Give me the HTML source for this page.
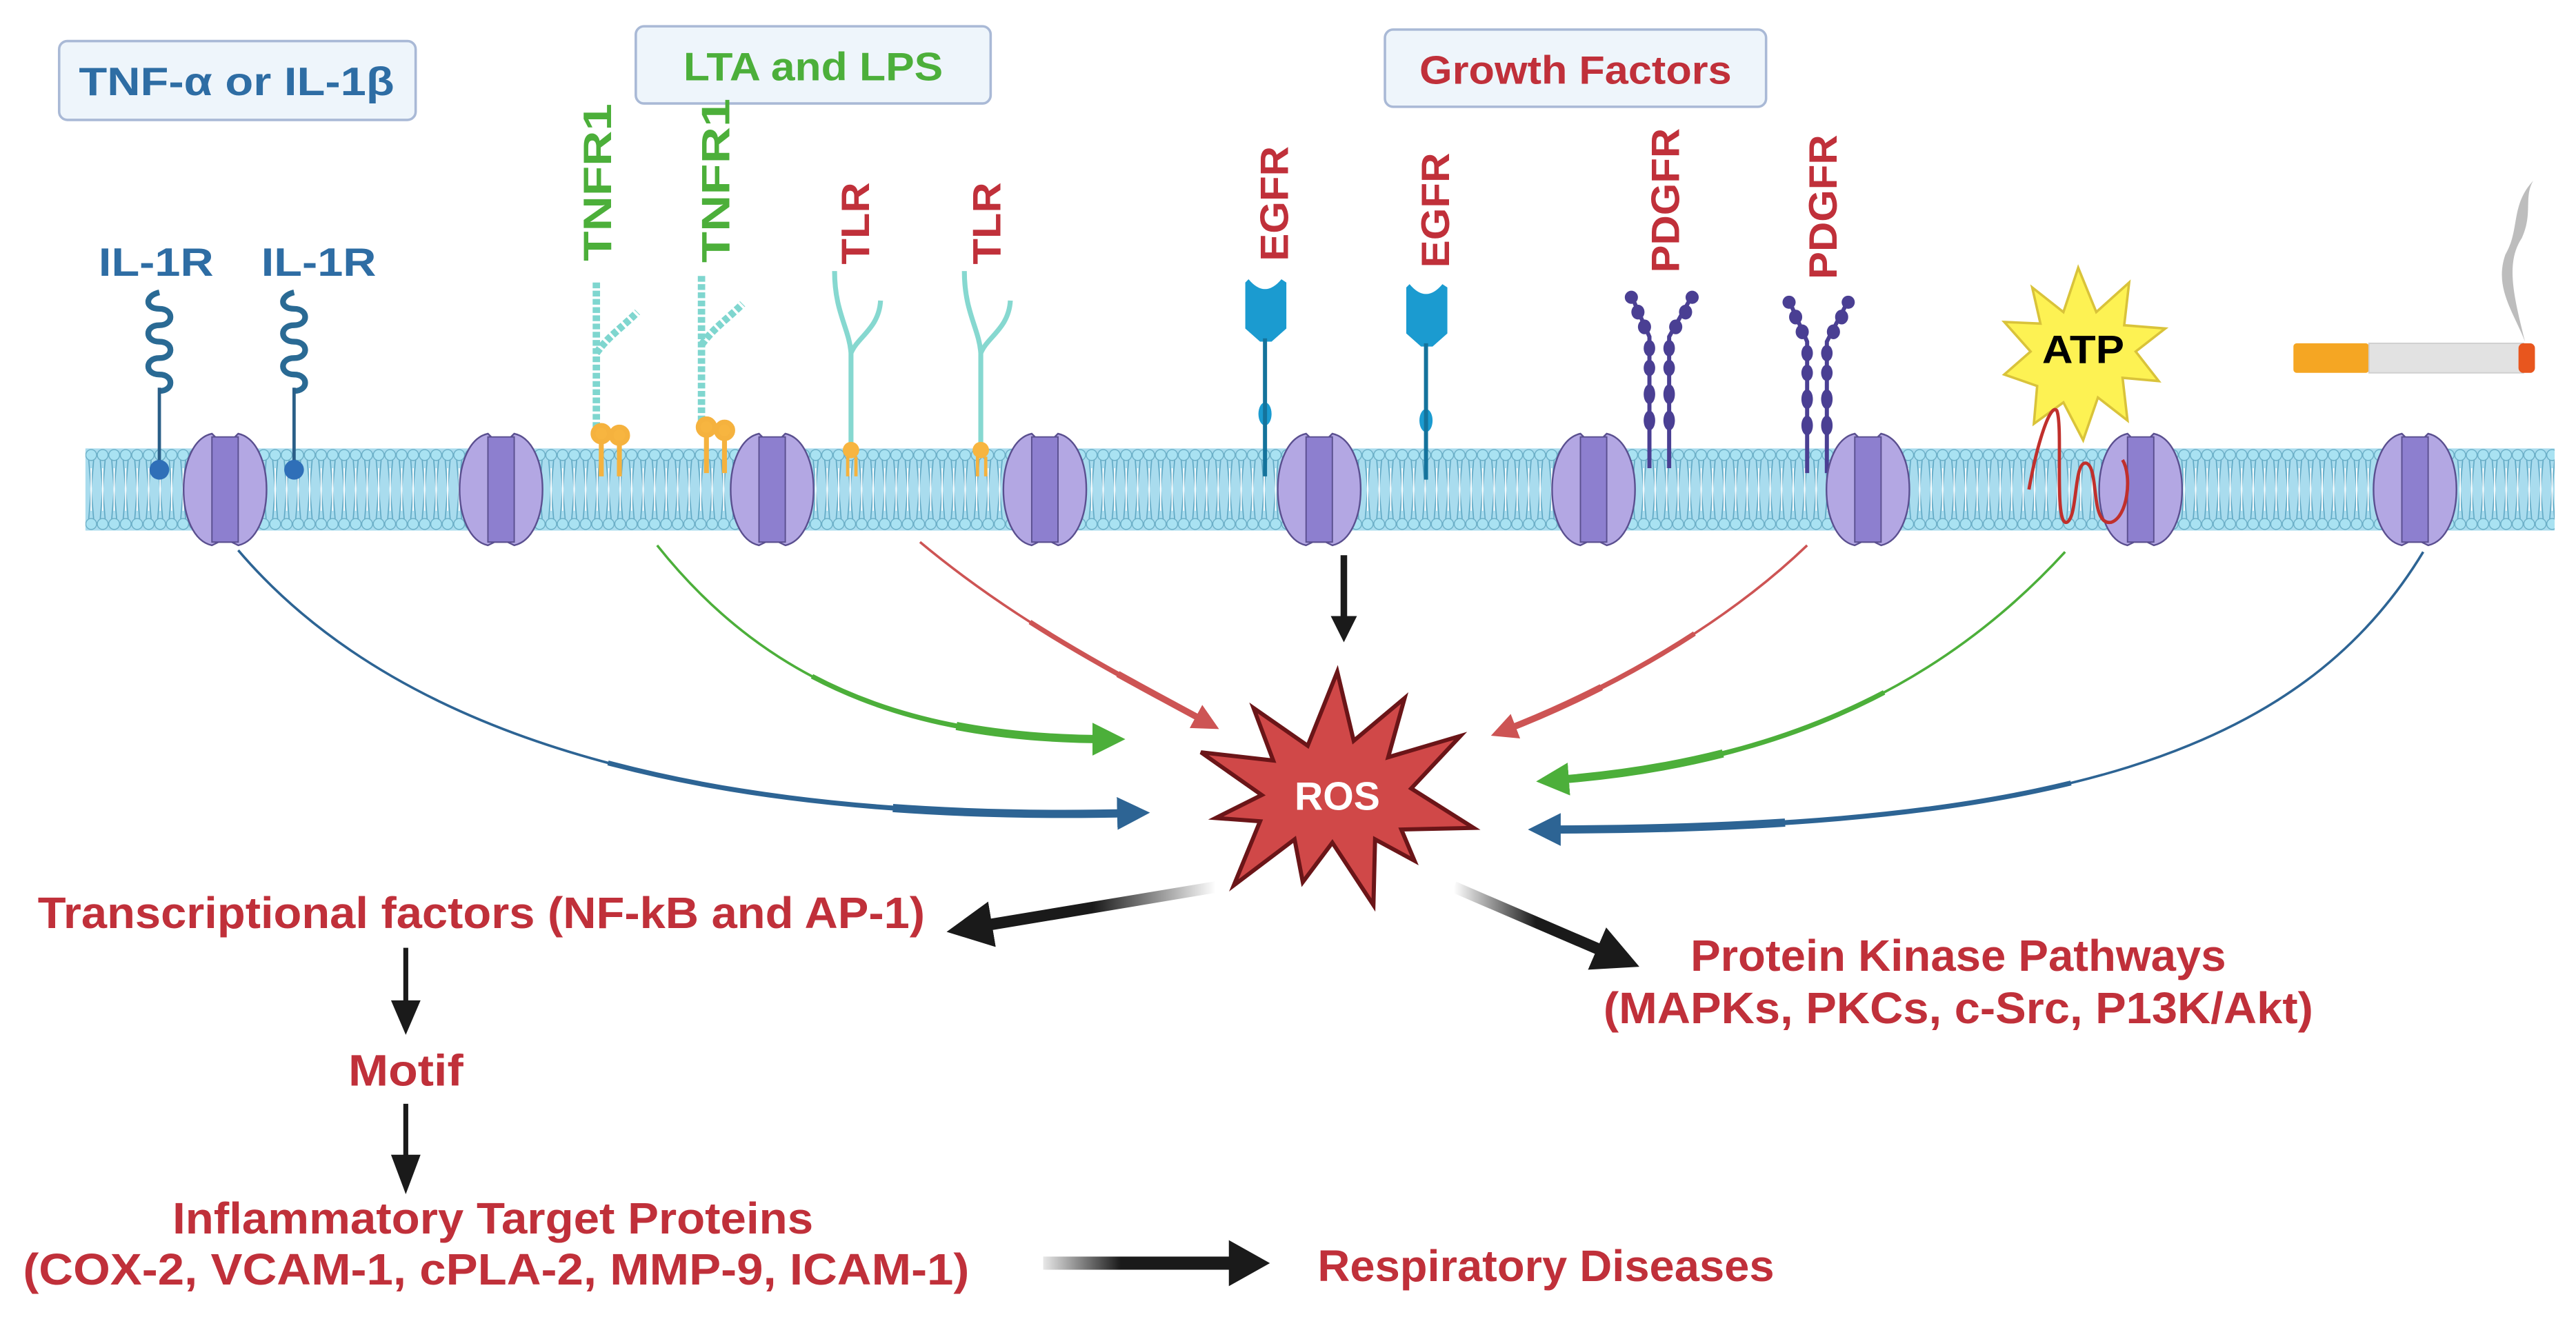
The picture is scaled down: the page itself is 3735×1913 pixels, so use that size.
<!DOCTYPE html>
<html><head><meta charset="utf-8"><style>
html,body{margin:0;padding:0;background:#fff;}
svg{display:block;}
text{font-family:"Liberation Sans",sans-serif;font-weight:bold;}
</style></head><body>
<svg width="3735" height="1913" viewBox="0 0 1568 803" preserveAspectRatio="none" xmlns="http://www.w3.org/2000/svg">
<defs>
<pattern id="lip" x="52" y="0" width="7" height="803" patternUnits="userSpaceOnUse">
<rect x="0" y="273" width="7" height="50" fill="#a9dcee"/>
<line x1="2" y1="280" x2="5" y2="316" stroke="#5fa8c4" stroke-width="0.7"/>
<line x1="5" y1="280" x2="2" y2="316" stroke="#5fa8c4" stroke-width="0.7"/>
<line x1="3.5" y1="285" x2="3.5" y2="311" stroke="#fff" stroke-width="0.8"/>
<circle cx="3.5" cy="277" r="3.3" fill="#a9e2f2" stroke="#6aaec6" stroke-width="0.6"/>
<circle cx="3.5" cy="319" r="3.3" fill="#a9e2f2" stroke="#6aaec6" stroke-width="0.6"/>
</pattern>
<g id="ch">
<path d="M-8,-34 C-31,-29 -31,29 -8,34 L-4,32 L4,32 L8,34 C31,29 31,-29 8,-34 L4,-30 L-4,-30 Z" fill="#b3a7e3" stroke="#5a4f8f" stroke-width="1"/>
<rect x="-8" y="-32" width="16" height="64" fill="#8d7fcf" stroke="#5a4f8f" stroke-width="0.8"/>
</g>
<marker id="mB" markerWidth="4" markerHeight="4" refX="2" refY="2" orient="auto" markerUnits="strokeWidth"><path d="M0,0 L4,2 L0,4 Z" fill="#2d6494"/></marker>
<marker id="mG" markerWidth="4" markerHeight="4" refX="2" refY="2" orient="auto" markerUnits="strokeWidth"><path d="M0,0 L4,2 L0,4 Z" fill="#4caf3a"/></marker>
<marker id="mR" markerWidth="4" markerHeight="4" refX="2" refY="2" orient="auto" markerUnits="strokeWidth"><path d="M0,0 L4,2 L0,4 Z" fill="#cd5454"/></marker>
<marker id="mK" markerWidth="4" markerHeight="4" refX="2" refY="2" orient="auto" markerUnits="strokeWidth"><path d="M0,0 L4,2 L0,4 Z" fill="#1a1a1a"/></marker>
<linearGradient id="gL" x1="1" y1="0" x2="0" y2="0"><stop offset="0" stop-color="#1a1a1a" stop-opacity="0"/><stop offset="0.5" stop-color="#1a1a1a"/></linearGradient>
<linearGradient id="gR" x1="0" y1="0" x2="1" y2="0"><stop offset="0" stop-color="#1a1a1a" stop-opacity="0"/><stop offset="0.5" stop-color="#1a1a1a"/></linearGradient>
<linearGradient id="gH" x1="0" y1="0" x2="1" y2="0"><stop offset="0" stop-color="#1a1a1a" stop-opacity="0.1"/><stop offset="0.4" stop-color="#1a1a1a"/></linearGradient>
</defs>

<!-- label boxes -->
<rect x="36" y="25" width="217" height="48" rx="5" fill="#eef5fb" stroke="#a9b9d6" stroke-width="1.5"/>
<text x="144" y="58" font-size="24" fill="#2e6da4" text-anchor="middle" textLength="192" lengthAdjust="spacingAndGlyphs">TNF-α or IL-1β</text>
<rect x="387" y="16" width="216" height="47" rx="5" fill="#eef5fb" stroke="#a9b9d6" stroke-width="1.5"/>
<text x="495" y="49" font-size="24" fill="#4caf3a" text-anchor="middle" textLength="158" lengthAdjust="spacingAndGlyphs">LTA and LPS</text>
<rect x="843" y="18" width="232" height="47" rx="5" fill="#eef5fb" stroke="#a9b9d6" stroke-width="1.5"/>
<text x="959" y="51" font-size="24" fill="#c0303a" text-anchor="middle" textLength="190" lengthAdjust="spacingAndGlyphs">Growth Factors</text>

<!-- membrane -->
<rect x="52" y="272" width="1503" height="52" fill="url(#lip)"/>

<!-- IL-1R -->
<text x="95" y="168" font-size="24" fill="#2e6da4" text-anchor="middle" textLength="70" lengthAdjust="spacingAndGlyphs">IL-1R</text>
<text x="194" y="168" font-size="24" fill="#2e6da4" text-anchor="middle" textLength="70" lengthAdjust="spacingAndGlyphs">IL-1R</text>
<g fill="none" stroke="#2a6a94" stroke-width="3.5">
<path d="M97,178 c-9,2 -9,10 0,10 c9,0 9,10 0,10 c-9,0 -9,10 0,10 c9,0 9,10 0,10 c-9,0 -9,10 0,10 c9,0 9,10 0,10"/>
<path d="M179,178 c-9,2 -9,10 0,10 c9,0 9,10 0,10 c-9,0 -9,10 0,10 c9,0 9,10 0,10 c-9,0 -9,10 0,10 c9,0 9,10 0,10"/>
</g>
<line x1="97" y1="236" x2="97" y2="285" stroke="#2a5f88" stroke-width="2"/>
<line x1="179" y1="236" x2="179" y2="285" stroke="#2a5f88" stroke-width="2"/>
<circle cx="97" cy="286" r="6" fill="#2f6fb8"/><circle cx="179" cy="286" r="6" fill="#2f6fb8"/>

<!-- TNFR1 -->
<g font-size="24" fill="#4caf3a">
<text transform="translate(372,111) rotate(-90)" text-anchor="middle" textLength="96" lengthAdjust="spacingAndGlyphs">TNFR1</text>
<text transform="translate(444,110) rotate(-90)" text-anchor="middle" textLength="100" lengthAdjust="spacingAndGlyphs">TNFR1</text>
</g>
<g stroke="#7fd6cf" stroke-width="4.5" stroke-dasharray="3.5 1.5" fill="none">
<path d="M363,172 L363,260"/><path d="M363,215 C370,205 378,200 388,190"/>
<path d="M427,168 L427,258"/><path d="M427,210 C434,200 442,195 452,185"/>
</g>
<g stroke="#f5b23e" stroke-width="3" fill="#f7b540">
<circle cx="366" cy="264" r="5"/><circle cx="377" cy="265" r="5"/>
<line x1="366" y1="268" x2="366" y2="290"/><line x1="377" y1="268" x2="377" y2="290"/>
<circle cx="430" cy="260" r="5"/><circle cx="441" cy="262" r="5"/>
<line x1="430" y1="264" x2="430" y2="288"/><line x1="441" y1="266" x2="441" y2="288"/>
</g>

<!-- TLR -->
<g font-size="24" fill="#c0303a">
<text transform="translate(529,136) rotate(-90)" text-anchor="middle" textLength="50" lengthAdjust="spacingAndGlyphs">TLR</text>
<text transform="translate(609,136) rotate(-90)" text-anchor="middle" textLength="50" lengthAdjust="spacingAndGlyphs">TLR</text>
</g>
<g stroke="#86d8d0" stroke-width="3" fill="none">
<path d="M508,165 C508,190 517,200 518,215 L518,272"/><path d="M536,183 C535,200 522,205 518,215"/>
<path d="M587,165 C587,190 596,200 597,215 L597,272"/><path d="M615,183 C614,200 601,205 597,215"/>
</g>
<g fill="#f7b540"><circle cx="518" cy="274" r="5"/><circle cx="597" cy="274" r="5"/></g>
<g stroke="#f5b23e" stroke-width="2"><line x1="516" y1="278" x2="516" y2="290"/><line x1="521" y1="278" x2="521" y2="290"/><line x1="595" y1="278" x2="595" y2="290"/><line x1="600" y1="278" x2="600" y2="290"/></g>

<!-- EGFR -->
<g font-size="24" fill="#c0303a">
<text transform="translate(784,124) rotate(-90)" text-anchor="middle" textLength="70" lengthAdjust="spacingAndGlyphs">EGFR</text>
<text transform="translate(882,128) rotate(-90)" text-anchor="middle" textLength="70" lengthAdjust="spacingAndGlyphs">EGFR</text>
</g>
<g fill="#1b9bd0">
<path d="M760,170 Q770,182 780,170 L783,172 L783,200 L774,208 L767,208 L758,200 L758,172 Z"/>
<path d="M858,173 Q868,185 878,173 L881,175 L881,203 L872,211 L865,211 L856,203 L856,175 Z"/>
<ellipse cx="770" cy="252" rx="4" ry="7"/><ellipse cx="868" cy="256" rx="4" ry="7"/>
</g>
<g stroke="#14739c" stroke-width="2.5"><line x1="770" y1="206" x2="770" y2="290"/><line x1="868" y1="209" x2="868" y2="292"/></g>

<!-- PDGFR -->
<g font-size="24" fill="#c0303a">
<text transform="translate(1022,122) rotate(-90)" text-anchor="middle" textLength="88" lengthAdjust="spacingAndGlyphs">PDGFR</text>
<text transform="translate(1118,126) rotate(-90)" text-anchor="middle" textLength="88" lengthAdjust="spacingAndGlyphs">PDGFR</text>
</g>
<g stroke="#4a3f93" stroke-width="2.5" fill="none">
<path d="M993,180 L1004,205 L1004,285"/><path d="M1030,180 L1016,205 L1016,285"/>
<path d="M1089,183 L1100,208 L1100,288"/><path d="M1125,183 L1112,208 L1112,288"/>
</g>
<g fill="#4a3f93">
<ellipse cx="993" cy="181" rx="4" ry="4"/><ellipse cx="997" cy="190" rx="4" ry="4.5"/><ellipse cx="1001" cy="199" rx="4" ry="4.5"/>
<ellipse cx="1030" cy="181" rx="4" ry="4"/><ellipse cx="1026" cy="190" rx="4" ry="4.5"/><ellipse cx="1020" cy="199" rx="4" ry="4.5"/>
<ellipse cx="1004" cy="212" rx="3.5" ry="5"/><ellipse cx="1004" cy="224" rx="3.5" ry="5"/><ellipse cx="1004" cy="240" rx="3.5" ry="6"/><ellipse cx="1004" cy="256" rx="3.5" ry="6"/>
<ellipse cx="1016" cy="212" rx="3.5" ry="5"/><ellipse cx="1016" cy="224" rx="3.5" ry="5"/><ellipse cx="1016" cy="240" rx="3.5" ry="6"/><ellipse cx="1016" cy="256" rx="3.5" ry="6"/>
<ellipse cx="1089" cy="184" rx="4" ry="4"/><ellipse cx="1093" cy="193" rx="4" ry="4.5"/><ellipse cx="1097" cy="202" rx="4" ry="4.5"/>
<ellipse cx="1125" cy="184" rx="4" ry="4"/><ellipse cx="1121" cy="193" rx="4" ry="4.5"/><ellipse cx="1116" cy="202" rx="4" ry="4.5"/>
<ellipse cx="1100" cy="215" rx="3.5" ry="5"/><ellipse cx="1100" cy="227" rx="3.5" ry="5"/><ellipse cx="1100" cy="243" rx="3.5" ry="6"/><ellipse cx="1100" cy="259" rx="3.5" ry="6"/>
<ellipse cx="1112" cy="215" rx="3.5" ry="5"/><ellipse cx="1112" cy="227" rx="3.5" ry="5"/><ellipse cx="1112" cy="243" rx="3.5" ry="6"/><ellipse cx="1112" cy="259" rx="3.5" ry="6"/>
</g>

<!-- channels -->
<use href="#ch" x="137" y="298"/><use href="#ch" x="305" y="298"/><use href="#ch" x="470" y="298"/>
<use href="#ch" x="636" y="298"/><use href="#ch" x="803" y="298"/><use href="#ch" x="970" y="298"/>
<use href="#ch" x="1137" y="298"/><use href="#ch" x="1303" y="298"/><use href="#ch" x="1470" y="298"/>

<!-- ATP -->
<polygon points="1265,163 1276,190 1296,172 1293,198 1318,200 1300,214 1314,232 1292,230 1295,256 1277,242 1268,268 1256,245 1238,258 1240,235 1220,228 1236,214 1220,196 1242,197 1237,175 1256,190" fill="#fdf253" stroke="#d9c33a" stroke-width="1.5"/>
<text x="1268" y="221" font-size="24" fill="#000" text-anchor="middle" textLength="50" lengthAdjust="spacingAndGlyphs">ATP</text>
<path d="M1235,298 C1240,270 1248,245 1252,250 C1256,260 1250,320 1258,318 C1265,315 1262,280 1270,282 C1278,285 1272,320 1285,318 C1295,315 1298,290 1292,280" fill="none" stroke="#c0302c" stroke-width="2"/>

<!-- cigarette -->
<rect x="1396" y="209" width="46" height="18" rx="2" fill="#f5a623"/>
<rect x="1442" y="209" width="94" height="18" fill="#e2e2e2" stroke="#cfcfcf" stroke-width="0.8"/>
<rect x="1533" y="209" width="10" height="18" rx="3" fill="#e8561e"/>
<path d="M1537,208 C1530,180 1525,160 1535,145 C1542,130 1536,120 1542,110 C1528,125 1534,140 1525,155 C1518,175 1530,190 1537,208 Z" fill="#bdbdbd"/>

<!-- colored arrows: tapered by layering same path -->
<g fill="none" stroke-linecap="butt">
<path d="M145,335 C260,470 480,500 690,495" stroke="#2d6494" stroke-width="1.5"/>
<path d="M145,335 C260,470 480,500 690,495" pathLength="100" stroke-dasharray="0 45 55" stroke="#2d6494" stroke-width="3"/>
<path d="M145,335 C260,470 480,500 690,495" pathLength="100" stroke-dasharray="0 75 25" stroke="#2d6494" stroke-width="5" marker-end="url(#mB)"/>
<path d="M400,332 C470,420 560,450 675,450" stroke="#4caf3a" stroke-width="1.5"/>
<path d="M400,332 C470,420 560,450 675,450" pathLength="100" stroke-dasharray="0 40 60" stroke="#4caf3a" stroke-width="3"/>
<path d="M400,332 C470,420 560,450 675,450" pathLength="100" stroke-dasharray="0 70 30" stroke="#4caf3a" stroke-width="5" marker-end="url(#mG)"/>
<path d="M560,330 C620,380 680,410 735,440" stroke="#cd5454" stroke-width="1.5"/>
<path d="M560,330 C620,380 680,410 735,440" pathLength="100" stroke-dasharray="0 40 60" stroke="#cd5454" stroke-width="3"/>
<path d="M560,330 C620,380 680,410 735,440" pathLength="100" stroke-dasharray="0 70 30" stroke="#cd5454" stroke-width="4" marker-end="url(#mR)"/>
<path d="M1100,332 C1050,380 980,420 915,445" stroke="#cd5454" stroke-width="1.5"/>
<path d="M1100,332 C1050,380 980,420 915,445" pathLength="100" stroke-dasharray="0 40 60" stroke="#cd5454" stroke-width="3"/>
<path d="M1100,332 C1050,380 980,420 915,445" pathLength="100" stroke-dasharray="0 70 30" stroke="#cd5454" stroke-width="4" marker-end="url(#mR)"/>
<path d="M1257,336 C1180,420 1080,465 945,475" stroke="#4caf3a" stroke-width="1.5"/>
<path d="M1257,336 C1180,420 1080,465 945,475" pathLength="100" stroke-dasharray="0 40 60" stroke="#4caf3a" stroke-width="3"/>
<path d="M1257,336 C1180,420 1080,465 945,475" pathLength="100" stroke-dasharray="0 70 30" stroke="#4caf3a" stroke-width="5" marker-end="url(#mG)"/>
<path d="M1475,336 C1400,460 1250,505 940,505" stroke="#2d6494" stroke-width="1.5"/>
<path d="M1475,336 C1400,460 1250,505 940,505" pathLength="100" stroke-dasharray="0 45 55" stroke="#2d6494" stroke-width="3"/>
<path d="M1475,336 C1400,460 1250,505 940,505" pathLength="100" stroke-dasharray="0 75 25" stroke="#2d6494" stroke-width="5" marker-end="url(#mB)"/>
<path d="M818,338 L818,383" stroke="#1a1a1a" stroke-width="4" marker-end="url(#mK)"/>
</g>

<!-- ROS -->
<polygon points="814,409 824,451 855,425 845,461 889,448 859,480 897,504 853,505 861,524 837,511 836,551 811,513 793,537 788,511 751,539 767,500 740,498 768,484 731,458 775,463 763,431 796,454" fill="#d04848" stroke="#6b1518" stroke-width="2.5" stroke-linejoin="miter"/>
<text x="814" y="493" font-size="24" fill="#fff" text-anchor="middle" textLength="52" lengthAdjust="spacingAndGlyphs">ROS</text>

<!-- black arrows -->
<path d="M740,540 L590,565" stroke="url(#gL)" stroke-width="7" fill="none" marker-end="url(#mK)"/>
<path d="M885,540 L985,583" stroke="url(#gR)" stroke-width="7" fill="none" marker-end="url(#mK)"/>
<line x1="247" y1="577" x2="247" y2="612" stroke="#1a1a1a" stroke-width="3"/>
<polygon points="238,609 256,609 247,630" fill="#1a1a1a"/>
<line x1="247" y1="672" x2="247" y2="705" stroke="#1a1a1a" stroke-width="3"/>
<polygon points="238,703 256,703 247,727" fill="#1a1a1a"/>
<rect x="635" y="765" width="118" height="8" fill="url(#gH)"/>
<polygon points="748,755 773,769 748,783" fill="#1a1a1a"/>

<!-- red texts -->
<g font-size="27" fill="#c0303a" text-anchor="middle">
<text x="293" y="565" textLength="540" lengthAdjust="spacingAndGlyphs">Transcriptional factors (NF-kB and AP-1)</text>
<text x="247" y="661" textLength="70" lengthAdjust="spacingAndGlyphs">Motif</text>
<text x="300" y="751" textLength="390" lengthAdjust="spacingAndGlyphs">Inflammatory Target Proteins</text>
<text x="302" y="782" textLength="576" lengthAdjust="spacingAndGlyphs">(COX-2, VCAM-1, cPLA-2, MMP-9, ICAM-1)</text>
<text x="941" y="780" textLength="278" lengthAdjust="spacingAndGlyphs">Respiratory Diseases</text>
<text x="1192" y="591" textLength="326" lengthAdjust="spacingAndGlyphs">Protein Kinase Pathways</text>
<text x="1192" y="623" textLength="432" lengthAdjust="spacingAndGlyphs">(MAPKs, PKCs, c-Src, P13K/Akt)</text>
</g>
</svg>
</body></html>
